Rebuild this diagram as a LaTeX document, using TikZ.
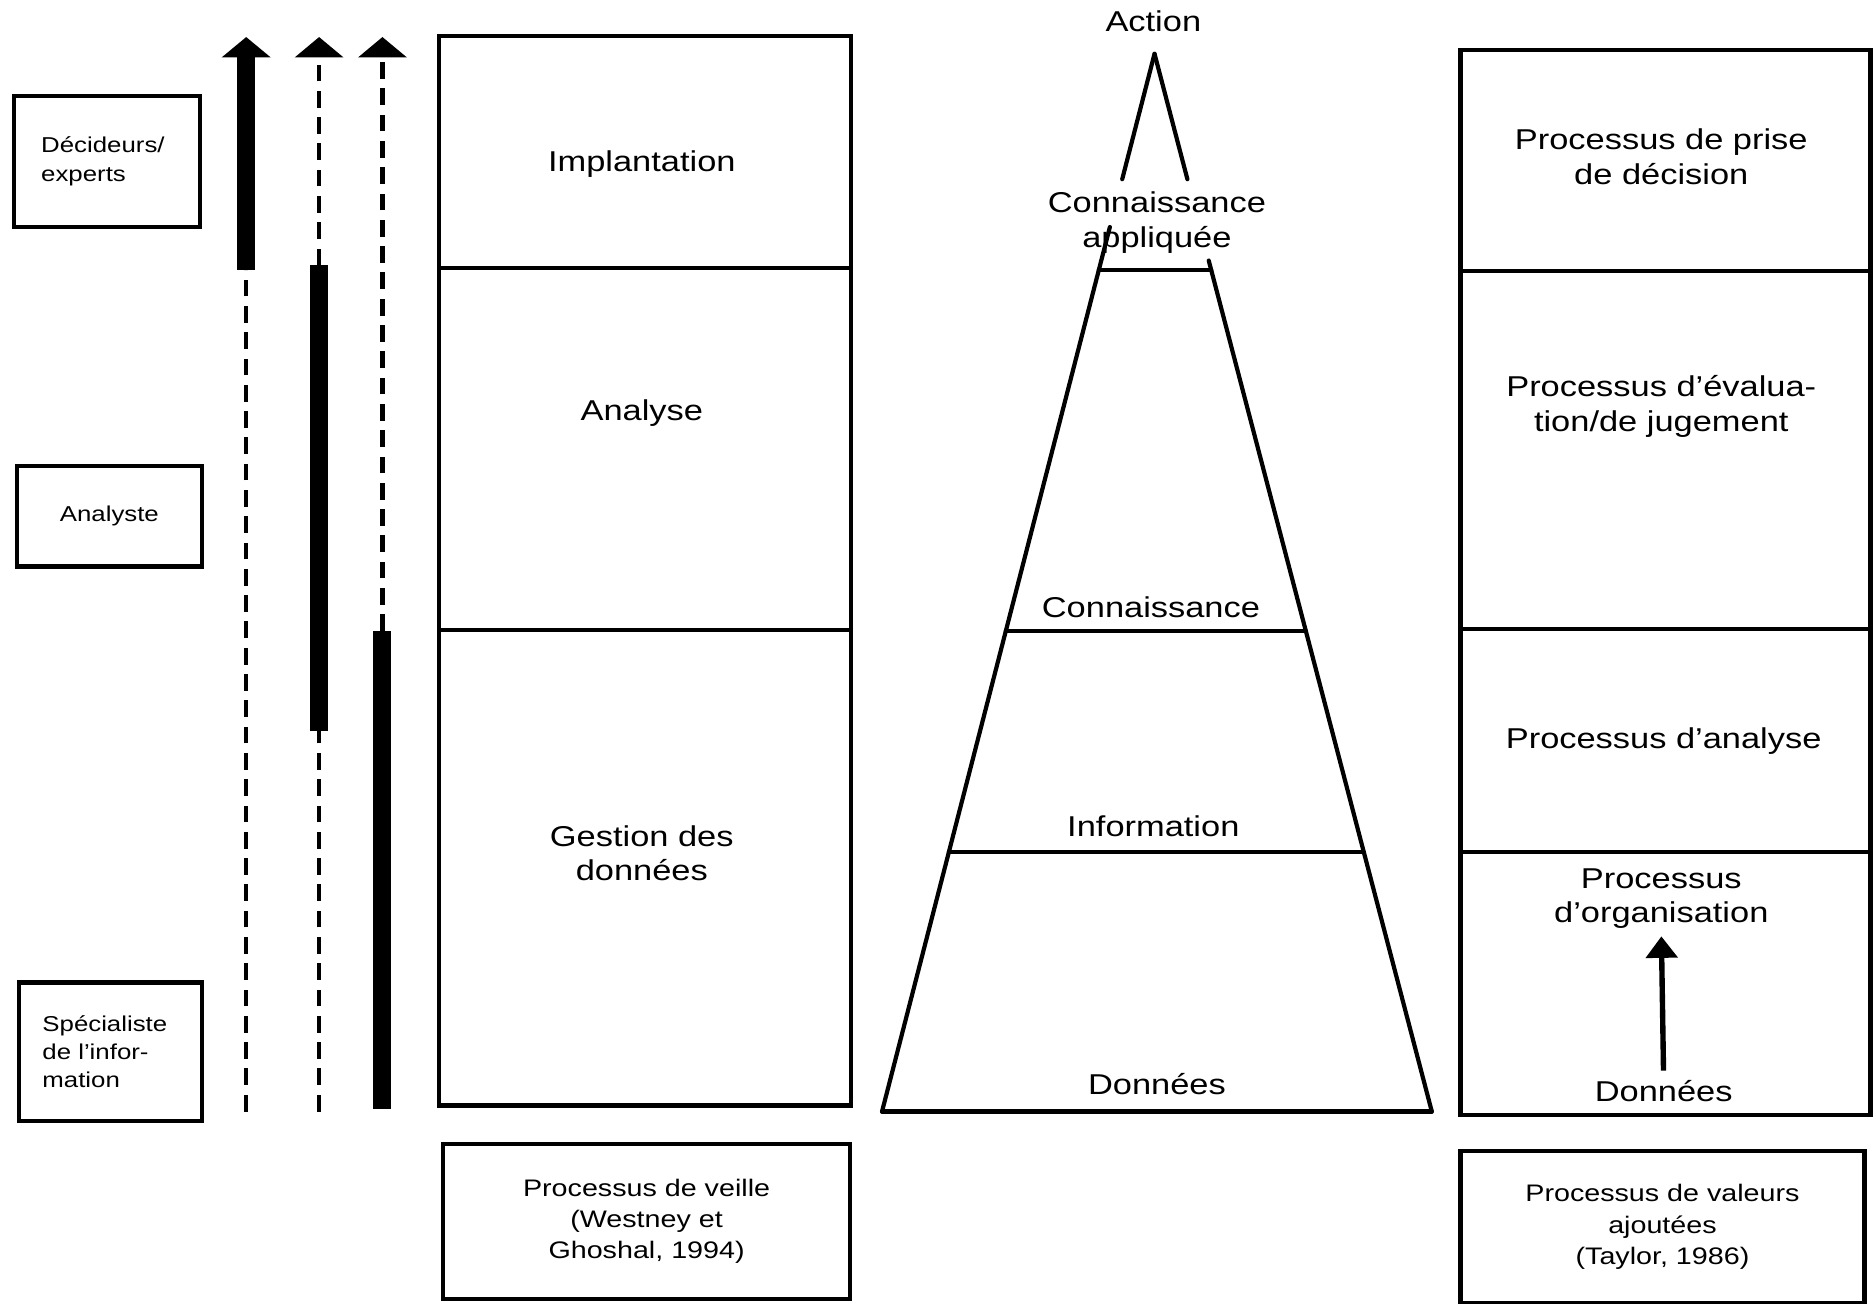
\documentclass[tikz,border=0pt]{standalone}
\usepackage{fontspec}
\setmainfont{Liberation Sans}[FakeStretch=1.2]
\usetikzlibrary{arrows.meta,calc}
\tikzset{
  boxline/.style={draw=black, line width=3.5pt, rectangle},
  lbl/.style={font=\fontsize{24}{29}\selectfont, align=center, inner sep=0pt},
  smalllbl/.style={font=\fontsize{20}{26}\selectfont, align=center, inner sep=0pt},
  sidelbl/.style={font=\fontsize{18}{23.5}\selectfont, align=left, inner sep=0pt},
  thickbar/.style={line width=15pt},
  dashbar/.style={line width=3.5pt, dash pattern=on 14pt off 8pt},
  bighead/.style={-{Triangle[width=40pt,length=17pt]}},
  pyr/.style={line width=3.5pt, line cap=round},
  upline/.style={line width=4.5pt, -{Triangle[width=26pt,length=18pt]}},
}
\begin{document}
\begin{tikzpicture}[x=1pt,y=-1pt]
\useasboundingbox[fill=white] (0,0) rectangle (1568,1091);

% ---- left actor boxes
\node[boxline, sidelbl, minimum width=155pt, minimum height=110pt, text width=110pt] (dec) at (89.5,135) {Décideurs/\\experts};
\node[boxline, sidelbl, align=center, minimum width=155pt, minimum height=84pt] (ana) at (91.5,432) {Analyste};
\node[boxline, sidelbl, minimum width=153pt, minimum height=116pt, text width=114pt] (spe) at (92.5,880) {Spécialiste\\de l'infor-\\mation};

% ---- vertical arrows
\coordinate (a1top) at (206,31);
\coordinate (a1mid) at (206,226);
\coordinate (a1bot) at (206,930);
\draw[dashbar] (a1bot) -- (a1mid);
\draw[thickbar, bighead] (a1mid) -- (a1top);

\coordinate (a2top) at (267,31);
\coordinate (a2up) at (267,222);
\coordinate (a2low) at (267,612);
\coordinate (a2bot) at (267,930);
\draw[dashbar, bighead] (a2up) -- (a2top);
\draw[thickbar] (a2low) -- (a2up);
\draw[dashbar] (a2bot) -- (a2low);

\coordinate (a3top) at (320,31);
\coordinate (a3mid) at (320,528);
\coordinate (a3bot) at (320,928);
\draw[dashbar, bighead] (a3mid) -- (a3top);
\draw[thickbar] (a3bot) -- (a3mid);

% ---- veille process column
\node[boxline, minimum width=345pt, minimum height=194pt] (wimp) at (539.5,127) {};
\node[boxline, minimum width=345pt, minimum height=303pt] (wana) at (539.5,375.5) {};
\node[boxline, minimum width=345pt, minimum height=398pt] (wges) at (539.5,726) {};
\node[lbl] (timp) at (537,137) {Implantation};
\node[lbl] (tana) at (537,346) {Analyse};
\node[lbl] (tges) at (537,714) {Gestion des\\données};
\node[boxline, smalllbl, minimum width=340pt, minimum height=130pt] (veille) at (541,1022) {Processus de veille\\(Westney et\\Ghoshal, 1994)};

% ---- pyramid
\coordinate (apex) at (966,45);
\coordinate (bl) at (738,930);
\coordinate (br) at (1198,930);
\draw[pyr] (apex) -- ($(apex)!0.1186!(bl)$);
\draw[pyr] ($(apex)!0.1638!(bl)$) -- (bl);
\draw[pyr] (apex) -- ($(apex)!0.1186!(br)$);
\draw[pyr] ($(apex)!0.1955!(br)$) -- (br);
\draw[pyr] ($(apex)!0.2045!(bl)$) -- ($(apex)!0.2045!(br)$);
\draw[pyr] ($(apex)!0.5458!(bl)$) -- ($(apex)!0.5458!(br)$);
\draw[pyr] ($(apex)!0.7548!(bl)$) -- ($(apex)!0.7548!(br)$);
\draw[pyr] (bl) -- (br);
\node[lbl] (pact) at (965,18) {Action};
\node[lbl] (pcap) at (968,186) {Connaissance\\appliquée};
\node[lbl] (pcon) at (963,508) {Connaissance};
\node[lbl] (pinf) at (965,691) {Information};
\node[lbl] (pdon) at (968,907) {Données};

% ---- value-added process column
\node[boxline, minimum width=343pt, minimum height=185pt] (rdec) at (1393.5,134.5) {};
\node[boxline, minimum width=343pt, minimum height=299pt] (reva) at (1393.5,376.5) {};
\node[boxline, minimum width=343pt, minimum height=187pt] (rana) at (1393.5,619.5) {};
\node[boxline, minimum width=343pt, minimum height=220pt] (rorg) at (1393.5,823) {};
\node[lbl] (tdec) at (1390,131) {Processus de prise\\de décision};
\node[lbl] (teva) at (1390,340) {Processus d'évalua-\\tion/de jugement};
\node[lbl] (tana2) at (1392,620) {Processus d'analyse};
\node[lbl] (torg) at (1390,752) {Processus\\d'organisation};
\node[lbl] (tdon) at (1392,913) {Données};
\draw[upline, shorten <=8pt, shorten >=6pt] (tdon.north) -- (torg.south);
\node[boxline, smalllbl, minimum width=338pt, minimum height=127pt] (valeur) at (1391,1026.5) {Processus de valeurs\\ajoutées\\(Taylor, 1986)};
\end{tikzpicture}
\end{document}
